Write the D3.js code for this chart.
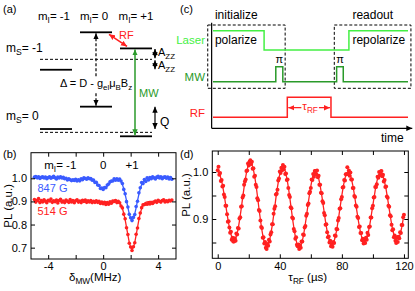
<!DOCTYPE html>
<html>
<head>
<meta charset="utf-8">
<script src="https://cdn.jsdelivr.net/npm/d3@7"></script>
<style>
  html, body { margin: 0; padding: 0; background: #fff; }
  svg { display: block; font-family: "Liberation Sans", Arial, sans-serif; }
</style>
</head>
<body>
<div id="chart"></div>
<script>
// ---------- data ----------
// (a) level diagram, energies in arbitrary units
const nuclearSpins = [-1, 0, 1];
const upperLevels = [6.4, 10, 8.45];     // mS = -1, ordered by mI
const lowerLevels = [0.7, 2.85, 0];      // mS = 0, ordered by mI
const upperCenter = 7.4;
const lowerCenter = 0.38;

// (c) pulse sequence, [time, level]
const laserSteps = [[0, 1], [26.2, 0], [69.7, 1], [100, 1]];
const mwSteps = [[0, 0], [32.2, 1], [35.8, 0], [63.4, 1], [66.8, 0], [100, 0]];
const rfSteps = [[0, 0], [38.1, 1], [60.5, 0], [100, 0]];
const stages = [
  { name: "initialize", sub: "polarize", t0: -2.7, t1: 37, label: 1 },
  { name: "readout", sub: "repolarize", t0: 62.2, t1: 101.5, label: 71.5 }
];

// (b) ODMR spectra, detuning -5 ... 5 MHz in 0.1 MHz steps
const detuningStart = -5, detuningStep = 0.1;
const fit847 = [
  1.000,1.000,1.000,1.000,1.000,1.000,1.000,1.000,1.000,1.000,
  1.000,1.000,1.000,1.000,1.000,1.000,1.000,1.000,1.000,1.000,
  .999,.998,.997,.996,.995,.993,.992,.991,.990,.990,
  .990,.991,.992,.993,.995,.996,.997,.998,.999,.998,
  .998,.996,.994,.990,.985,.979,.973,.966,.960,.956,
  .955,.956,.960,.966,.973,.979,.985,.990,.994,.995,
  .996,.996,.992,.985,.973,.955,.931,.903,.873,.846,
  .827,.820,.827,.846,.873,.903,.931,.955,.973,.985,
  .992,.996,.998,.999,1.000,1.000,1.000,1.000,1.000,1.000,
  1.000,1.000,1.000,1.000,1.000,1.000,1.000,1.000,1.000,1.000,
  1.000];
const data847 = [
  1.005,1.008,1.002,1.006,.999,1.004,1.007,1.001,1.005,.998,
  1.003,1.006,1.000,1.004,1.009,1.002,.997,1.005,1.001,1.007,
  1.002,1.004,.998,1.000,.993,.998,.994,.990,.994,.991,
  .996,.988,.994,.989,.998,.994,1.002,.999,.996,1.002,
  .998,.999,.992,.992,.982,.983,.971,.969,.956,.958,
  .952,.960,.959,.971,.975,.985,.988,.988,.998,.992,
  .998,.992,.997,.988,.977,.952,.933,.899,.876,.844,
  .829,.817,.831,.843,.878,.901,.937,.959,.982,.977,
  .995,.986,1.002,.993,1.003,.998,1.007,1.002,.997,1.005,
  1.009,1.001,1.006,.998,1.004,1.007,1.000,1.005,.997,1.003,
  .996];
const fit514 = [
  .900,.900,.900,.900,.900,.900,.900,.900,.900,.900,
  .900,.900,.900,.900,.900,.900,.900,.900,.900,.900,
  .900,.900,.900,.900,.900,.900,.900,.900,.900,.900,
  .900,.900,.900,.900,.900,.900,.900,.900,.900,.900,
  .900,.900,.900,.899,.899,.898,.897,.896,.895,.894,
  .892,.892,.892,.893,.894,.895,.896,.897,.898,.898,
  .897,.896,.891,.882,.869,.848,.821,.788,.754,.723,
  .701,.693,.701,.723,.754,.788,.821,.848,.869,.882,
  .891,.896,.898,.899,.900,.900,.900,.900,.900,.900,
  .900,.900,.900,.900,.900,.900,.900,.900,.900,.900,
  .900];
const data514 = [
  .908,.897,.905,.912,.895,.904,.898,.907,.901,.894,
  .905,.902,.910,.896,.903,.899,.906,.893,.904,.909,
  .897,.902,.895,.906,.901,.896,.908,.898,.904,.894,
  .903,.907,.897,.902,.895,.905,.900,.906,.896,.903,
  .898,.904,.895,.901,.896,.903,.896,.900,.891,.897,
  .890,.896,.887,.895,.888,.898,.892,.902,.900,.904,
  .895,.900,.894,.880,.872,.845,.825,.786,.757,.719,
  .703,.688,.704,.721,.758,.785,.826,.850,.873,.885,
  .887,.889,.888,.891,.889,.894,.891,.897,.902,.896,
  .905,.901,.897,.904,.907,.898,.903,.899,.905,.902,
  .906];
const hyperfineLabels = [{ text: "-1", f: -2.1 }, { text: "0", f: 0 }, { text: "+1", f: 2.1 }];

// (d) Rabi oscillation, tau 0 ... 120 us in 0.5 us steps
const tauStart = 0, tauStep = 0.5;
const rabiFit = [
  1.000,.999,.997,.993,.987,.981,.973,.964,.954,.944,.933,.922,.911,.901,.891,.882,.874,.868,.862,.858,.856,.855,
  .856,.859,.863,.869,.877,.886,.896,.907,.919,.931,.944,.956,.968,.979,.989,.998,1.006,1.012,1.016,1.019,1.020,
  1.019,1.016,1.011,1.005,.996,.987,.976,.964,.951,.938,.924,.911,.899,.887,.876,.866,.858,.851,.846,.843,.842,
  .843,.846,.850,.857,.864,.874,.884,.895,.907,.920,.932,.945,.957,.968,.978,.988,.995,1.002,1.006,1.009,1.010,
  1.009,1.006,1.002,.995,.987,.978,.968,.956,.944,.931,.919,.906,.894,.883,.872,.863,.855,.848,.844,.841,.840,
  .841,.844,.848,.854,.861,.870,.880,.891,.902,.914,.926,.938,.949,.960,.970,.979,.986,.992,.996,.999,1.000,
  .999,.997,.992,.987,.979,.971,.961,.951,.940,.928,.917,.905,.894,.884,.874,.866,.859,.853,.848,.846,.845,
  .846,.848,.853,.859,.866,.874,.884,.894,.905,.917,.928,.940,.951,.961,.971,.979,.987,.992,.997,.999,1.000,
  .999,.997,.993,.987,.980,.972,.963,.953,.942,.931,.920,.910,.899,.889,.880,.872,.865,.859,.855,.853,.852,
  .853,.855,.859,.865,.871,.880,.888,.898,.909,.920,.930,.941,.951,.962,.971,.979,.986,.991,.995,.997,.998,
  .997,.995,.991,.986,.979,.971,.963,.953,.943,.932,.921,.911,.900,.890,.881,.874,.867,.862,.858,.856,.855,
  .856,.858,.862,.867,.874,.881,.890,.900,.911];
const rabiData = [
  1.004,1.011,.994,.998,.981,.983,.969,.971,.952,.947,.928,.928,.910,.894,.895,.882,.871,.873,.856,.860,.852,.852,
  .859,.854,.869,.867,.881,.880,.901,.904,.926,.927,.946,.950,.973,.980,.984,1.002,1.003,1.018,1.014,1.022,1.025,
  1.017,1.022,1.007,1.008,.990,.992,.973,.968,.944,.940,.919,.917,.897,.883,.881,.860,.861,.848,.851,.839,.836,
  .847,.843,.856,.852,.867,.872,.889,.889,.911,.922,.927,.952,.954,.962,.982,.986,1.001,.998,1.009,1.004,1.015,
  1.006,1.011,.996,.997,.983,.984,.966,.951,.947,.925,.923,.903,.901,.879,.874,.858,.861,.845,.842,.846,.836,
  .844,.839,.852,.852,.867,.866,.882,.885,.907,.911,.930,.933,.955,.958,.966,.984,.983,.996,.990,1.002,1.002,
  .995,1.003,.989,.992,.973,.973,.956,.955,.938,.934,.913,.908,.888,.889,.872,.861,.863,.850,.854,.842,.847,
  .841,.851,.849,.865,.864,.879,.878,.897,.902,.922,.923,.942,.947,.967,.968,.983,.982,.995,.995,1.010,.997,
  1.003,.992,.999,.984,.984,.966,.966,.949,.947,.929,.926,.905,.902,.883,.884,.870,.870,.855,.858,.848,.856,
  .849,.860,.856,.871,.866,.883,.884,.903,.903,.923,.928,.946,.947,.968,.968,.974,.990,.988,1.000,.993,1.001,
  1.002,.991,.994,.980,.983,.968,.969,.948,.945,.928,.926,.908,.906,.888,.876,.878,.861,.865,.854,.849,.861,
  .851,.862,.859,.872,.870,.887,.887,.904,.909];

// ---------- styles ----------
const RED = "#ff2121", BLUE = "#3a5bff", GREEN = "#2a9a2a", LASER = "#44f044";

const svg = d3.select("#chart").append("svg")
  .attr("width", 415).attr("height", 291);

// arrow heads
const defs = svg.append("defs");
[["k", "#000"], ["g", GREEN], ["r", RED]].forEach(([id, c]) => {
  defs.append("marker")
    .attr("id", "ah-" + id)
    .attr("viewBox", "0 -5 10 10")
    .attr("refX", 10).attr("refY", 0)
    .attr("markerUnits", "userSpaceOnUse")
    .attr("markerWidth", 6).attr("markerHeight", 6)
    .attr("orient", "auto-start-reverse")
    .append("path").attr("d", "M0,-4.5L10,0L0,4.5Z").attr("fill", c);
});

// text with subscripts: parts = [[string, isSub], ...]
function richText(g, x, y, parts, size, color, anchor) {
  const t = g.append("text").attr("x", x).attr("y", y)
    .attr("font-size", size).attr("fill", color || "#000")
    .attr("text-anchor", anchor || "start");
  parts.forEach(([s, sub]) => {
    const ts = t.append("tspan").text(s);
    if (sub) ts.attr("font-size", size * 0.72).attr("dy", size * 0.28);
    else ts.attr("dy", 0);
  });
  // reset baseline after subscripts
  t.selectAll("tspan").each(function (d, i, nodes) {
    if (i > 0 && parts[i - 1][1] && !parts[i][1]) d3.select(this).attr("dy", -size * 0.28);
  });
  return t;
}

// ---------- (a) level diagram ----------
const ga = svg.append("g");
const xI = d3.scaleBand().domain(nuclearSpins).range([36, 156]).paddingInner(0.2).paddingOuter(0.1);
const yE = d3.scaleLinear().domain([0, 10]).range([136.3, 32.3]);

ga.append("text").attr("x", 3).attr("y", 12.5).attr("font-size", 11).text("(a)");
nuclearSpins.forEach((m, i) => {
  const lab = m > 0 ? "+" + m : String(m);
  richText(ga, xI(m) + xI.bandwidth() / 2 - (i < 2 ? 2 : 0), 20, [["m", false], ["I", true], ["= " + lab, false]], 11.5, "#000", "middle");
});
richText(ga, 6, 52, [["m", false], ["S", true], ["= -1", false]], 12);
richText(ga, 6, 120, [["m", false], ["S", true], ["= 0", false]], 12);

// center (dashed) lines
ga.selectAll("line.center").data([upperCenter, lowerCenter]).join("line")
  .attr("x1", xI(-1)).attr("x2", xI(1) + xI.bandwidth())
  .attr("y1", d => yE(d)).attr("y2", d => yE(d))
  .attr("stroke", "#000").attr("stroke-width", 1).attr("stroke-dasharray", "3,2");

// levels
const levels = nuclearSpins.flatMap((m, i) => [{ m, e: upperLevels[i] }, { m, e: lowerLevels[i] }]);
ga.selectAll("line.level").data(levels).join("line")
  .attr("x1", d => xI(d.m)).attr("x2", d => xI(d.m) + xI.bandwidth())
  .attr("y1", d => yE(d.e)).attr("y2", d => yE(d.e))
  .attr("stroke", "#000").attr("stroke-width", 1.8);

function arrow(g, x1, y1, x2, y2, color, mk, dash, w) {
  return g.append("line").attr("x1", x1).attr("y1", y1).attr("x2", x2).attr("y2", y2)
    .attr("stroke", color).attr("stroke-width", w || 1.2)
    .attr("stroke-dasharray", dash || null)
    .attr("marker-start", `url(#ah-${mk})`).attr("marker-end", `url(#ah-${mk})`);
}
const cx0 = xI(0) + xI.bandwidth() / 2, cx1 = xI(1) + xI.bandwidth() / 2;
arrow(ga, cx0, yE(upperLevels[1]) + 1, cx0, yE(lowerLevels[1]) - 1, "#000", "k", "3,2");
arrow(ga, cx1 - 1, yE(upperLevels[2]) + 1, cx1 - 1, yE(lowerLevels[2]) - 1, GREEN, "g", null, 1.5);
arrow(ga, xI(0) + xI.bandwidth() - 3, yE(upperLevels[1]) + 2, xI(1) + 7, yE(upperLevels[2]) - 2, RED, "r", null, 1.5);
const xa = xI(1) + xI.bandwidth() + 3;
arrow(ga, xa, yE(upperLevels[2]) + 0.5, xa, yE(upperCenter) - 1, "#000", "k");
arrow(ga, xa, yE(upperCenter) + 1, xa, yE(upperLevels[0]) - 0.5, "#000", "k");
arrow(ga, xa, yE(lowerLevels[1]), xa, yE(lowerLevels[0]), "#000", "k");

const delta = richText(ga, cx0, 87, [["\u0394 = D - g", false], ["el", true], ["\u03bc", false], ["B", true], ["B", false], ["z", true]], 11, "#000", "middle");
const bb = delta.node().getBBox();
ga.insert("rect", () => delta.node()).attr("x", bb.x - 1).attr("y", bb.y).attr("width", bb.width + 2).attr("height", bb.height)
  .attr("fill", "#fff");
ga.append("text").attr("x", 119).attr("y", 39).attr("font-size", 11).attr("fill", RED).text("RF");
ga.append("text").attr("x", 139).attr("y", 97).attr("font-size", 11).attr("fill", GREEN).text("MW");
richText(ga, xa + 3, 56, [["A", false], ["ZZ", true]], 11);
richText(ga, xa + 3, 69, [["A", false], ["ZZ", true]], 11);
ga.append("text").attr("x", xa + 5).attr("y", 126).attr("font-size", 12).text("Q");

// ---------- (c) pulse sequence ----------
const gc = svg.append("g");
const xT = d3.scaleLinear().domain([0, 100]).range([213, 408]);
const channels = [
  { name: "Laser", steps: laserSteps, lo: 50, hi: 30.7, color: LASER, ly: 44 },
  { name: "MW", steps: mwSteps, lo: 81.7, hi: 66.7, color: GREEN, ly: 81 },
  { name: "RF", steps: rfSteps, lo: 117.3, hi: 97.3, color: RED, ly: 117 }
];
gc.append("text").attr("x", 180).attr("y", 13).attr("font-size", 11).text("(c)");
gc.selectAll("rect.stage").data(stages).join("rect")
  .attr("x", d => xT(d.t0)).attr("width", d => xT(d.t1) - xT(d.t0))
  .attr("y", 25).attr("height", 63.3)
  .attr("fill", "none").attr("stroke", "#000").attr("stroke-width", 1).attr("stroke-dasharray", "3,2");
gc.selectAll("text.stage").data(stages).join("text")
  .attr("x", d => xT(d.label)).attr("y", 19).attr("font-size", 12).text(d => d.name);
gc.selectAll("text.sub").data(stages).join("text")
  .attr("x", d => xT(d.label)).attr("y", 44).attr("font-size", 12).text(d => d.sub);

channels.forEach(c => {
  const y = d3.scaleLinear().domain([0, 1]).range([c.lo, c.hi]);
  gc.append("path").datum(c.steps)
    .attr("d", d3.line().x(d => xT(d[0])).y(d => y(d[1])).curve(d3.curveStepAfter))
    .attr("fill", "none").attr("stroke", c.color).attr("stroke-width", 1.5);
  gc.append("text").attr("x", 205).attr("y", c.ly).attr("text-anchor", "end")
    .attr("font-size", 11.5).attr("fill", c.color).text(c.name);
});
// pi labels over the MW pulses
const piPulses = [[mwSteps[1][0], mwSteps[2][0]], [mwSteps[3][0], mwSteps[4][0]]];
gc.selectAll("text.pi").data(piPulses).join("text")
  .attr("x", d => xT((d[0] + d[1]) / 2)).attr("y", 63).attr("text-anchor", "middle")
  .attr("font-size", 11).text("\u03c0");
// tau_RF arrow
const ty = 107.7;
arrow(gc, xT(rfSteps[1][0]) + 1, ty, xT(rfSteps[2][0]) - 1, ty, RED, "r", null, 1.2);
const tau = richText(gc, xT((rfSteps[1][0] + rfSteps[2][0]) / 2) + 1, 110, [["\u03c4", false], ["RF", true]], 11.5, RED, "middle");
const tb = tau.node().getBBox();
gc.insert("rect", () => tau.node()).attr("x", tb.x - 1).attr("y", tb.y + 2).attr("width", tb.width + 2).attr("height", tb.height - 3)
  .attr("fill", "#fff");
// time axes
gc.append("line").attr("x1", xT(-0.7)).attr("x2", xT(-0.7)).attr("y1", 22.7).attr("y2", 128.3)
  .attr("stroke", "#000").attr("stroke-width", 1.2);
gc.append("line").attr("x1", xT(-0.7)).attr("x2", xT(102.2)).attr("y1", 128.3).attr("y2", 128.3)
  .attr("stroke", "#000").attr("stroke-width", 1.2).attr("marker-end", "url(#ah-k)");
gc.append("text").attr("x", 381).attr("y", 142).attr("font-size", 12).text("time");

// ---------- framed plots ----------
function framed(g, x, y, xt, xl, yt, yl, fmtY) {
  const [x0, x1] = x.range(), [y0, y1] = y.range();
  const fx = d => xl.includes(d) ? String(d) : "";
  const fy = d => yl.some(v => Math.abs(v - d) < 1e-9) ? fmtY(d) : "";
  const style = a => a.call(s => s.select(".domain").remove())
    .call(s => s.selectAll("text").attr("font-size", 11).attr("font-family", "Liberation Sans, Arial, sans-serif"));
  g.append("g").attr("transform", `translate(0,${y0})`)
    .call(d3.axisBottom(x).tickValues(xt).tickFormat(fx).tickSize(-4).tickPadding(3.5)).call(style);
  g.append("g").attr("transform", `translate(0,${y1})`)
    .call(d3.axisTop(x).tickValues(xt).tickFormat("").tickSize(-4)).call(style);
  g.append("g").attr("transform", `translate(${x0},0)`)
    .call(d3.axisLeft(y).tickValues(yt).tickFormat(fy).tickSize(-4).tickPadding(4)).call(style);
  g.append("g").attr("transform", `translate(${x1},0)`)
    .call(d3.axisRight(y).tickValues(yt).tickFormat("").tickSize(-4)).call(style);
  g.append("rect").attr("x", x0).attr("y", y1).attr("width", x1 - x0).attr("height", y0 - y1)
    .attr("fill", "none").attr("stroke", "#000").attr("stroke-width", 1);
}

// ---------- (b) ODMR ----------
const gb = svg.append("g");
const xF = d3.scaleLinear().domain([-5.25, 5.3]).range([31, 176]);
const yB = d3.scaleLinear().domain([0.651, 1.1107]).range([259, 152.7]);
const fAt = i => detuningStart + i * detuningStep;
const series = [
  { fit: fit514, data: data514, color: RED },
  { fit: fit847, data: data847, color: BLUE }
];
series.forEach(s => {
  gb.append("g").selectAll("circle").data(s.data).join("circle")
    .attr("cx", (d, i) => xF(fAt(i))).attr("cy", d => yB(d)).attr("r", 1.8).attr("fill", s.color);
  gb.append("path").datum(s.fit)
    .attr("d", d3.line().x((d, i) => xF(fAt(i))).y(d => yB(d)))
    .attr("fill", "none").attr("stroke", s.color).attr("stroke-width", 1.3);
});
framed(gb, xF, yB, [-4, -2, 0, 2, 4], [-4, 0, 4], [0.7, 0.8, 0.9, 1.0], [0.7, 0.8, 0.9, 1.0], d3.format(".1f"));
gb.append("text").attr("x", 3).attr("y", 158).attr("font-size", 11).text("(b)");
gb.append("text").attr("transform", `translate(12,${(152.7 + 259) / 2}) rotate(-90)`)
  .attr("text-anchor", "middle").attr("font-size", 11.5).text("PL (a.u.)");
richText(gb, 69, 281, [["\u03b4", false], ["MW", true], ["(MHz)", false]], 11.5);
hyperfineLabels.forEach((h, i) => {
  if (i === 0) richText(gb, xF(h.f) + 2, 169, [["m", false], ["I", true], ["= " + h.text, false]], 11.5, "#000", "end");
  else gb.append("text").attr("x", xF(h.f)).attr("y", 169).attr("text-anchor", "middle")
    .attr("font-size", 11.5).text(h.text);
});
gb.append("text").attr("x", 37.5).attr("y", 192).attr("font-size", 11).attr("fill", BLUE).text("847 G");
gb.append("text").attr("x", 37.5).attr("y", 215).attr("font-size", 11).attr("fill", RED).text("514 G");

// ---------- (d) Rabi ----------
const gd = svg.append("g");
const xR = d3.scaleLinear().domain([-3.5, 122.8]).range([212.3, 408.3]);
const yR = d3.scaleLinear().domain([0.8164, 1.0447]).range([258.3, 151]);
const tAt = i => tauStart + i * tauStep;
gd.append("g").selectAll("circle").data(rabiData).join("circle")
  .attr("cx", (d, i) => xR(tAt(i))).attr("cy", d => yR(d)).attr("r", 2).attr("fill", RED);
gd.append("path").datum(rabiFit)
  .attr("d", d3.line().x((d, i) => xR(tAt(i))).y(d => yR(d)))
  .attr("fill", "none").attr("stroke", RED).attr("stroke-width", 1.3);
framed(gd, xR, yR, [0, 20, 40, 60, 80, 100, 120], [0, 40, 80, 120], [0.85, 0.9, 0.95, 1.0], [0.9, 1.0], d3.format(".1f"));
gd.append("text").attr("x", 180).attr("y", 158).attr("font-size", 11).text("(d)");
gd.append("text").attr("transform", `translate(190,195) rotate(-90)`)
  .attr("text-anchor", "middle").attr("font-size", 11.5).text("PL (a.u.)");
richText(gd, xR(58), 281, [["\u03c4", false], ["RF", true], [" (\u00b5s)", false]], 11.5, "#000", "middle");
</script>
</body>
</html>
